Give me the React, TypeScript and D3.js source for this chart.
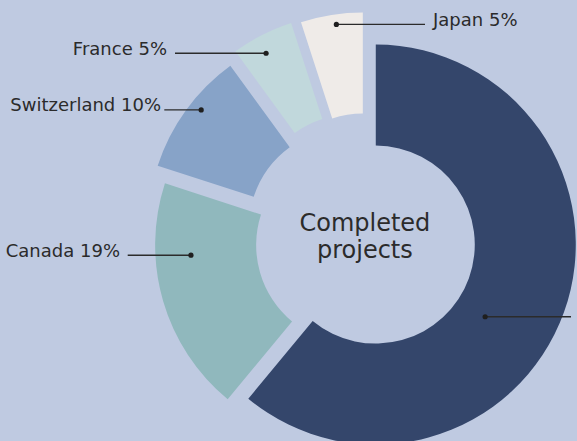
import React, { useEffect, useRef } from "react";
import * as d3 from "d3";

// data
const categories = ["United States", "Canada", "Switzerland", "France", "Japan"];
const shares = [61, 19, 10, 5, 5];
const centerLines = ["Completed", "projects"];

const colors = ["#34466b", "#90b8bd", "#87a3c8", "#c1d8dc", "#efebe8"];

// layout
const W = 577;
const H = 441;
const cx = 367.4;
const cy = 241.6;
const innerR = 99;
const outerR = 200;
const explode = [8.9, 12.75, 24.1, 31.9, 29.4];
const dotRadius = [131, 164.5, 188, 182, 190];
const dotTurn = [13.6, 12.7, 2.7, -1.5, 1];
const lineEnd = [571, 127.7, 164.3, 175, 425];
const textX = [579, 120, 161, 167, 433];

function deg2rad(deg: number) {
  return (deg * Math.PI) / 180;
}

export default function App() {
  const ref = useRef<SVGSVGElement>(null);

  useEffect(() => {
    const svg = d3.select(ref.current).html(null);

    svg.append("rect").attr("width", W).attr("height", H).attr("fill", "#bfcae1");

    const pie = d3
      .pie<number>()
      .sort(null)
      .value((d) => d);
    const arcs = pie(shares);

    const arc = d3
      .arc<d3.PieArcDatum<number>>()
      .innerRadius(innerR)
      .outerRadius(outerR);

    const mid = (d: d3.PieArcDatum<number>) => (d.startAngle + d.endAngle) / 2;

    const sliceG = svg
      .append("g")
      .attr("transform", `translate(${cx},${cy})`)
      .selectAll("g")
      .data(arcs)
      .enter()
      .append("g")
      .attr("transform", (d, i) => {
        const m = mid(d);
        return `translate(${explode[i] * Math.sin(m)},${-explode[i] * Math.cos(m)})`;
      });

    sliceG
      .append("path")
      .attr("d", arc)
      .attr("fill", (d, i) => colors[i]);

    // leader lines + labels
    const labels = svg.append("g");
    arcs.forEach((d, i) => {
      const m = mid(d);
      const sx = cx + explode[i] * Math.sin(m);
      const sy = cy - explode[i] * Math.cos(m);
      const a = m + deg2rad(dotTurn[i]);
      const px = sx + dotRadius[i] * Math.sin(a);
      const py = sy - dotRadius[i] * Math.cos(a);

      labels
        .append("line")
        .attr("x1", px)
        .attr("y1", py)
        .attr("x2", lineEnd[i])
        .attr("y2", py)
        .attr("stroke", "#2b2b2b")
        .attr("stroke-width", 1.4);

      labels
        .append("circle")
        .attr("cx", px)
        .attr("cy", py)
        .attr("r", 2.6)
        .attr("fill", "#1f1f1f");

      if (textX[i] < W) {
        labels
          .append("text")
          .attr("x", textX[i])
          .attr("y", py + 1.6)
          .attr("text-anchor", textX[i] > px ? "start" : "end")
          .attr("fill", "#2b2b2b")
          .style("font-family", "'DejaVu Sans', sans-serif")
          .style("font-size", "18px")
          .text(`${categories[i]} ${shares[i]}%`);
      }
    });

    const center = svg
      .append("text")
      .attr("text-anchor", "middle")
      .attr("fill", "#2b2b2b")
      .style("font-family", "'DejaVu Sans', sans-serif")
      .style("font-size", "24px");

    center
      .selectAll("tspan")
      .data(centerLines)
      .enter()
      .append("tspan")
      .attr("x", cx - 2.5)
      .attr("y", (d, i) => 230.7 + i * 27.6)
      .text((d) => d);
  });

  return (
    <div style={{ position: "fixed", left: 0, top: 0, width: W, height: H, overflow: "hidden" }}>
      <svg ref={ref} width={W} height={H} style={{ display: "block" }}></svg>
    </div>
  );
}
